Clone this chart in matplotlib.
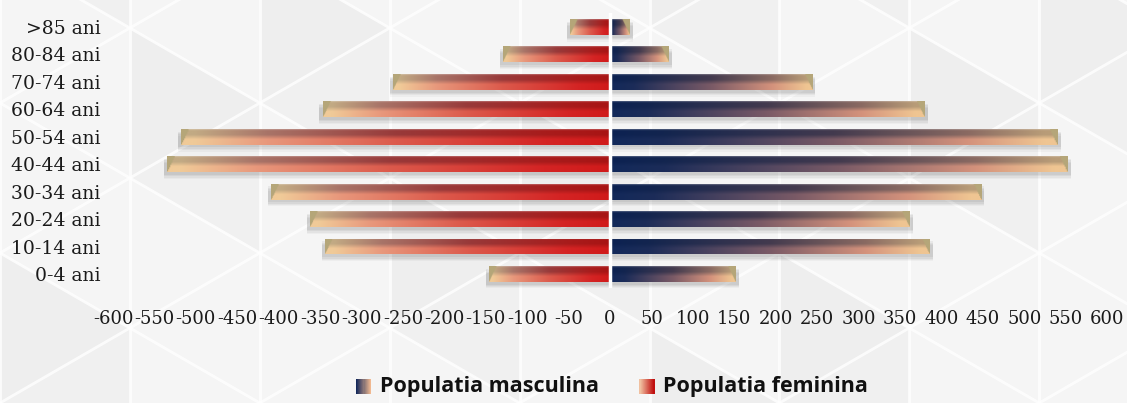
import numpy as np
import matplotlib
matplotlib.use('Agg')
import matplotlib.pyplot as plt
from matplotlib.colors import to_rgb
from matplotlib.legend_handler import HandlerBase
from matplotlib.patches import Rectangle, Polygon

# ---------------- data ----------------
age_groups = ['0-4 ani', '10-14 ani', '20-24 ani', '30-34 ani', '40-44 ani',
              '50-54 ani', '60-64 ani', '70-74 ani', '80-84 ani', '>85 ani']
male = [152, 386, 362, 448, 552, 540, 380, 244, 71, 24]
female = [146, 344, 362, 409, 535, 518, 347, 262, 129, 48]
x_ticks = list(range(-600, 601, 50))
x_tick_labels = [str(v) for v in x_ticks]
legend_labels = ['Populatia masculina', 'Populatia feminina']

# ---------------- style ----------------
W, H = 1127, 403
fig = plt.figure(figsize=(W / 100, H / 100), dpi=100)
fig.patch.set_facecolor('#f5f5f5')

# background triangle pattern
bg = fig.add_axes([0, 0, 1, 1], zorder=-10)
bg.set_xlim(0, W)
bg.set_ylim(0, H)
bg.axis('off')
side = 150.0
dx = side * np.sqrt(3) / 2
cols_n = int(W / dx) + 3
rows_n = int(H / side) + 3
for i in range(-1, cols_n):
    for j in range(-1, rows_n):
        x0 = i * dx
        y0 = j * side + (side / 2 if i % 2 else 0)
        if (i + 2 * j) % 3 == 0:
            tri = Polygon([[x0, y0], [x0, y0 + side], [x0 + dx, y0 + side / 2]],
                          closed=True, facecolor='#eeeeee', edgecolor='none')
            bg.add_patch(tri)
        elif (i + 2 * j) % 3 == 1:
            tri = Polygon([[x0 + dx, y0 + side / 2], [x0 + dx, y0 + 1.5 * side], [x0, y0 + side]],
                          closed=True, facecolor='#f0f0f0', edgecolor='none')
            bg.add_patch(tri)
for i in range(-1, cols_n):
    bg.axvline(i * dx, color='white', lw=2, alpha=0.8)
slope = np.tan(np.radians(30))
xs = np.array([-50, W + 50])
for k in range(-20, 30):
    c = k * side
    bg.plot(xs, c + slope * xs, color='white', lw=2, alpha=0.8)
    bg.plot(xs, c - slope * xs, color='white', lw=2, alpha=0.8)

ax = fig.add_axes([0.1003, 0.2861, 0.882, 0.681])
ax.set_facecolor('none')
for s in ax.spines.values():
    s.set_visible(False)

y = np.arange(len(age_groups))
bar_h = 0.58

male_top = [(0.0, '#0c2252'), (0.12, '#13254f'), (0.5, '#433a4e'), (0.8, '#8a6a62'), (0.97, '#b89c78'), (1.0, '#b89c78')]
male_bot = [(0.0, '#12295a'), (0.12, '#1c2c58'), (0.5, '#7a5a66'), (0.8, '#d4927c'), (0.97, '#efc592'), (1.0, '#efc592')]
fem_top = [(0.0, '#a81414'), (0.15, '#a81c1c'), (0.5, '#983a3a'), (0.8, '#a87468'), (0.97, '#c2aa84'), (1.0, '#c2aa84')]
fem_bot = [(0.0, '#d01a1a'), (0.15, '#d42424'), (0.5, '#dc5a4c'), (0.8, '#e8987c'), (0.97, '#f0ca98'), (1.0, '#f0ca98')]


def interp_stops(stops, t):
    ts = [s[0] for s in stops]
    cs = np.array([to_rgb(s[1]) for s in stops])
    return np.stack([np.interp(t, ts, cs[:, k]) for k in range(3)], axis=-1)


def bar_image(length, top, bot, ncols=400, nrows=24, cap=9.0):
    t = np.linspace(0, 1, ncols)
    yf = np.linspace(0, 1, nrows)[:, None]
    ct = interp_stops(top, t)[None, :, :]
    cb = interp_stops(bot, t)[None, :, :]
    w = np.clip((yf - 0.35) / 0.3, 0, 1)[:, :, None]
    img = ct * (1 - w) + cb * w
    # thin top highlight
    hl = np.clip(1 - yf / 0.08, 0, 1)[:, :, None] * 0.25
    img = img * (1 - hl) + hl
    # bevel cap
    dist_end = (1 - t)[None, :] * length
    mask = dist_end < cap * (1 - yf)
    capcol = np.array(to_rgb('#b5a679'))
    img[mask] = capcol
    return np.clip(img, 0, 1)


# soft shadows
for off, a in [(0.10, 0.05), (0.15, 0.05), (0.20, 0.04), (0.25, 0.03)]:
    ax.barh(y - off, [v + 4 for v in male], height=bar_h, left=0, color='#000000',
            alpha=a, zorder=1, lw=0)
    ax.barh(y - off, [-(v + 4) for v in female], height=bar_h, left=0, color='#000000',
            alpha=a, zorder=1, lw=0)

mb = ax.barh(y, male, height=bar_h, color='#0c2252', zorder=2, lw=0)
fb = ax.barh(y, [-v for v in female], height=bar_h, color='#c01414', zorder=2, lw=0)

for patch, v in zip(mb.patches, male):
    b = patch.get_bbox()
    img = bar_image(v, male_top, male_bot)
    im = ax.imshow(img, extent=[b.x0, b.x1, b.y0, b.y1], origin='upper',
                   aspect='auto', zorder=3, interpolation='bilinear')
    im.set_clip_path(patch)
for patch, v in zip(fb.patches, female):
    b = patch.get_bbox()
    img = bar_image(v, fem_top, fem_bot)[:, ::-1, :]
    im = ax.imshow(img, extent=[min(b.x0, b.x1), max(b.x0, b.x1), b.y0, b.y1], origin='upper',
                   aspect='auto', zorder=3, interpolation='bilinear')
    im.set_clip_path(patch)

ax.axvline(0, color='white', lw=2.5, zorder=4)

ax.set_xlim(-600, 600)
ax.set_ylim(-0.5, len(age_groups) - 0.5)
ax.set_xticks(x_ticks)
ax.set_xticklabels(x_tick_labels, fontfamily='DejaVu Serif', fontsize=13)
ax.set_yticks(y)
ax.set_yticklabels(age_groups, fontfamily='DejaVu Serif', fontsize=13.5)
ax.tick_params(axis='x', length=0, pad=16, colors='#1a1a1a')
ax.tick_params(axis='y', length=0, pad=9, colors='#1a1a1a')


class GradientHandler(HandlerBase):
    def __init__(self, c0, c1, n=14):
        super().__init__()
        self.c0 = np.array(to_rgb(c0))
        self.c1 = np.array(to_rgb(c1))
        self.n = n

    def create_artists(self, legend, orig_handle, xdescent, ydescent, width, height, fontsize, trans):
        size = height * 1.0
        x0 = -xdescent + width - size
        y0 = -ydescent + (height - size) / 2 - 1
        arts = []
        for k in range(self.n):
            f = k / (self.n - 1)
            c = self.c0 * (1 - f) + self.c1 * f
            r = Rectangle((x0 + k * size / self.n, y0), size / self.n + 0.3, size,
                          facecolor=c, edgecolor='none', transform=trans)
            arts.append(r)
        return arts


h1 = Rectangle((0, 0), 1, 1)
h2 = Rectangle((0, 1), 1, 1)
leg = fig.legend([h1, h2], legend_labels, loc='center', bbox_to_anchor=(0.543, 0.04),
                 ncol=2, frameon=False, handlelength=0.7, handletextpad=0.4,
                 columnspacing=1.9, borderpad=0.2,
                 handler_map={h1: GradientHandler('#14285a', '#f0b890'),
                              h2: GradientHandler('#f0c0a0', '#c01010')},
                 prop={'family': 'Open Sans', 'weight': 'bold', 'size': 15.5})
for t in leg.get_texts():
    t.set_color('#111111')

fig.savefig('out.png', dpi=100, facecolor=fig.get_facecolor())
